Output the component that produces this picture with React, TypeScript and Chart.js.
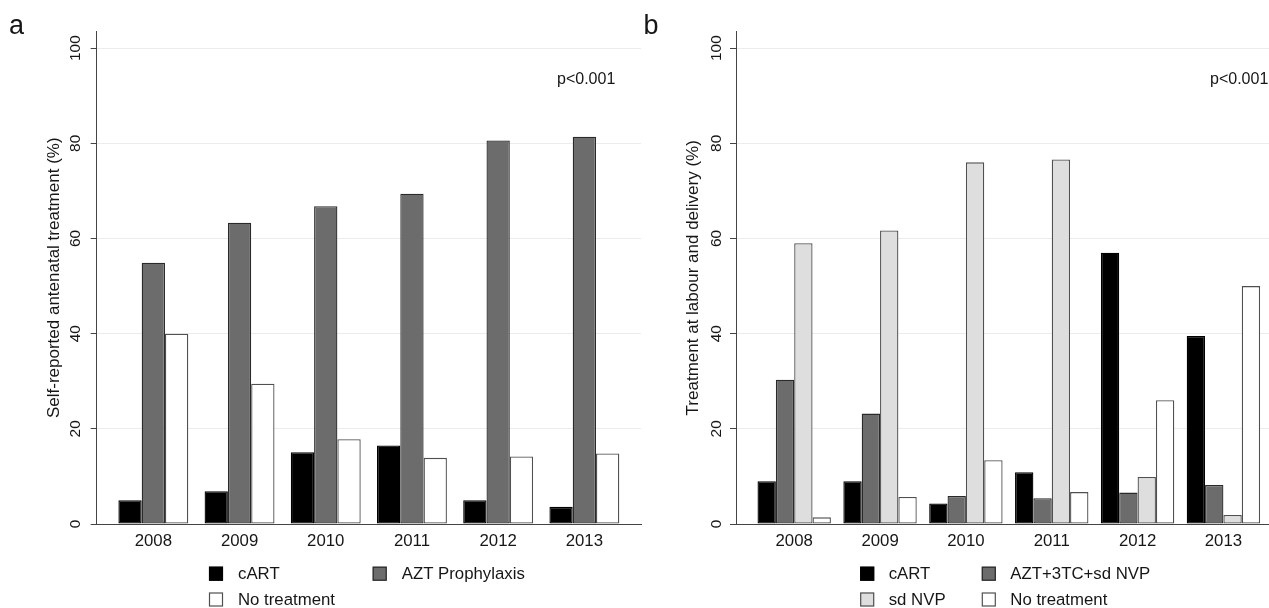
import React, { useEffect, useRef } from "react";
import { Chart, registerables } from "chart.js";

Chart.register(...registerables);

// ---------------- data ----------------
const years = ["2008", "2009", "2010", "2011", "2012", "2013"];
const yTicks = [0, 20, 40, 60, 80, 100];

// panel a: self-reported antenatal treatment (%)
const antenatalCART = [5.0, 6.9, 15.1, 16.5, 5.0, 3.6];
const antenatalAZT = [54.9, 63.3, 66.8, 69.4, 80.6, 81.4];
const antenatalNone = [40.0, 29.5, 17.8, 13.9, 14.2, 14.8];

// panel b: treatment at labour and delivery (%)
const labourCART = [9.0, 9.0, 4.3, 10.9, 57.0, 39.5];
const labourAZT3TC = [30.3, 23.2, 5.9, 5.4, 6.6, 8.2];
const labourSdNVP = [59.0, 61.7, 76.0, 76.6, 9.9, 1.9];
const labourNone = [1.4, 5.7, 13.4, 6.7, 26.0, 50.0];

const pValueText = "p<0.001";

// ---------------- styles ----------------
const FONT = '"Liberation Sans", Arial, Helvetica, sans-serif';
const TEXT = "#161616";
const AXIS = "#444444";
const GRID = "#ececec";

type Series = { label: string; values: number[]; fill: string; border: string };

type PanelSpec = {
  canvasLeft: number;
  canvasWidth: number;
  plotLeft: number;
  plotRight: number;
  plotTop: number;
  plotBottom: number;
  xMin: number;
  xMax: number;
  yMax: number;
  catPct: number;
  series: Series[];
  letter: string;
  letterX: number;
  yTitle: string;
  yTitleX: number;
  yTickX: number;
  pX: number;
  legendCols: number[];
  legendTextOffset: number;
};

const H = 608;

const panelA: PanelSpec = {
  canvasLeft: 0,
  canvasWidth: 642,
  plotLeft: 96.7,
  plotRight: 641,
  plotTop: 31.5,
  plotBottom: 524,
  xMin: -0.657,
  xMax: 5.657,
  yMax: 103.5,
  catPct: 0.811,
  series: [
    { label: "cART", values: antenatalCART, fill: "#000000", border: "#000000" },
    { label: "AZT Prophylaxis", values: antenatalAZT, fill: "#6c6c6c", border: "#2a2a2a" },
    { label: "No treatment", values: antenatalNone, fill: "#ffffff", border: "#505050" },
  ],
  letter: "a",
  letterX: 9,
  yTitle: "Self-reported antenatal treatment (%)",
  yTitleX: 54,
  yTickX: 76,
  pX: 557,
  legendCols: [209, 372.7],
  legendTextOffset: 29,
};

const panelB: PanelSpec = {
  canvasLeft: 640,
  canvasWidth: 629,
  plotLeft: 736,
  plotRight: 1269,
  plotTop: 31.5,
  plotBottom: 524,
  xMin: -0.678,
  xMax: 5.531,
  yMax: 103.5,
  catPct: 0.855,
  series: [
    { label: "cART", values: labourCART, fill: "#000000", border: "#000000" },
    { label: "AZT+3TC+sd NVP", values: labourAZT3TC, fill: "#6c6c6c", border: "#2a2a2a" },
    { label: "sd NVP", values: labourSdNVP, fill: "#dedede", border: "#505050" },
    { label: "No treatment", values: labourNone, fill: "#ffffff", border: "#505050" },
  ],
  letter: "b",
  letterX: 643.5,
  yTitle: "Treatment at labour and delivery (%)",
  yTitleX: 693,
  yTickX: 717,
  pX: 1210,
  legendCols: [860.2, 981.8],
  legendTextOffset: 28.5,
};

const legendRows = [573.7, 599.5];

function Panel({ spec }: { spec: PanelSpec }) {
  const ref = useRef<HTMLCanvasElement>(null);

  useEffect(() => {
    const canvas = ref.current!;
    const L = spec.canvasLeft;

    const decor = {
      id: "decor",
      afterDraw(chart: any) {
        const ctx: CanvasRenderingContext2D = chart.ctx;
        const xs = chart.scales.x;
        const ys = chart.scales.y;
        ctx.save();
        ctx.fillStyle = TEXT;

        // y tick labels (rotated)
        ctx.font = `15.5px ${FONT}`;
        ctx.textAlign = "center";
        ctx.textBaseline = "middle";
        for (const v of yTicks) {
          const py = ys.getPixelForValue(v);
          ctx.save();
          ctx.translate(spec.yTickX - L, py);
          ctx.rotate(-Math.PI / 2);
          ctx.fillText(String(v), 0, 0);
          ctx.restore();
        }

        // y title
        ctx.font = `17px ${FONT}`;
        ctx.save();
        ctx.translate(spec.yTitleX - L, (spec.plotTop + spec.plotBottom) / 2);
        ctx.rotate(-Math.PI / 2);
        ctx.fillText(spec.yTitle, 0, 0);
        ctx.restore();

        // x labels
        ctx.font = `16.8px ${FONT}`;
        years.forEach((yr, i) => {
          ctx.fillText(yr, xs.getPixelForValue(i), 541);
        });

        // panel letter
        ctx.font = `27px ${FONT}`;
        ctx.textAlign = "left";
        ctx.textBaseline = "alphabetic";
        ctx.fillText(spec.letter, spec.letterX - L, 33.5);

        // p-value
        ctx.font = `16px ${FONT}`;
        ctx.textBaseline = "middle";
        ctx.fillText(pValueText, spec.pX - L, 80);

        // legend
        ctx.font = `16.8px ${FONT}`;
        spec.series.forEach((s, i) => {
          const col = i % 2;
          const row = Math.floor(i / 2);
          const bx = spec.legendCols[col] - L;
          const cy = legendRows[row];
          ctx.fillStyle = s.fill;
          ctx.fillRect(bx, cy - 7, 14, 14);
          ctx.strokeStyle = s.border;
          ctx.lineWidth = 1.2;
          ctx.strokeRect(bx + 0.5, cy - 6.5, 13, 13);
          ctx.fillStyle = TEXT;
          ctx.fillText(s.label, bx + spec.legendTextOffset, cy + 0.5);
        });

        ctx.restore();
      },
    };

    const chart = new Chart(canvas, {
      type: "bar",
      data: {
        datasets: spec.series.map((s) => ({
          label: s.label,
          data: s.values.map((v, i) => ({ x: i, y: v })),
          backgroundColor: s.fill,
          borderColor: s.border,
          borderWidth: 1.3,
          borderSkipped: false,
          barPercentage: 1,
          categoryPercentage: spec.catPct,
        })),
      },
      options: {
        animation: false,
        responsive: false,
        layout: {
          padding: {
            left: 0,
            top: spec.plotTop,
            right: spec.canvasLeft + spec.canvasWidth - spec.plotRight,
            bottom: 0,
          },
        },
        plugins: {
          legend: { display: false },
          tooltip: { enabled: false },
          title: { display: false },
        },
        scales: {
          x: {
            type: "linear",
            offset: false,
            min: spec.xMin,
            max: spec.xMax,
            afterBuildTicks: (s: any) => {
              s.ticks = years.map((_, i) => ({ value: i }));
            },
            afterFit: (s: any) => {
              s.height = H - spec.plotBottom;
            },
            ticks: { display: false },
            grid: { display: false, offset: false },
            border: { display: true, color: AXIS, width: 1 },
          },
          y: {
            type: "linear",
            min: 0,
            max: spec.yMax,
            afterBuildTicks: (s: any) => {
              s.ticks = yTicks.map((v) => ({ value: v }));
            },
            afterFit: (s: any) => {
              s.width = spec.plotLeft - spec.canvasLeft;
            },
            ticks: { display: false },
            grid: {
              color: GRID,
              lineWidth: 1,
              drawTicks: true,
              tickLength: 6,
              tickColor: AXIS,
              tickWidth: 1,
            },
            border: { display: true, color: AXIS, width: 1 },
          },
        },
      } as any,
      plugins: [decor],
    });

    return () => chart.destroy();
  }, [spec]);

  return (
    <canvas
      ref={ref}
      width={spec.canvasWidth}
      height={H}
      style={{
        position: "absolute",
        left: spec.canvasLeft,
        top: 0,
        width: spec.canvasWidth,
        height: H,
      }}
    />
  );
}

export default function App() {
  return (
    <div
      style={{
        position: "absolute",
        left: 0,
        top: 0,
        width: 1269,
        height: H,
        background: "#ffffff",
        overflow: "hidden",
      }}
    >
      <Panel spec={panelA} />
      <Panel spec={panelB} />
    </div>
  );
}
